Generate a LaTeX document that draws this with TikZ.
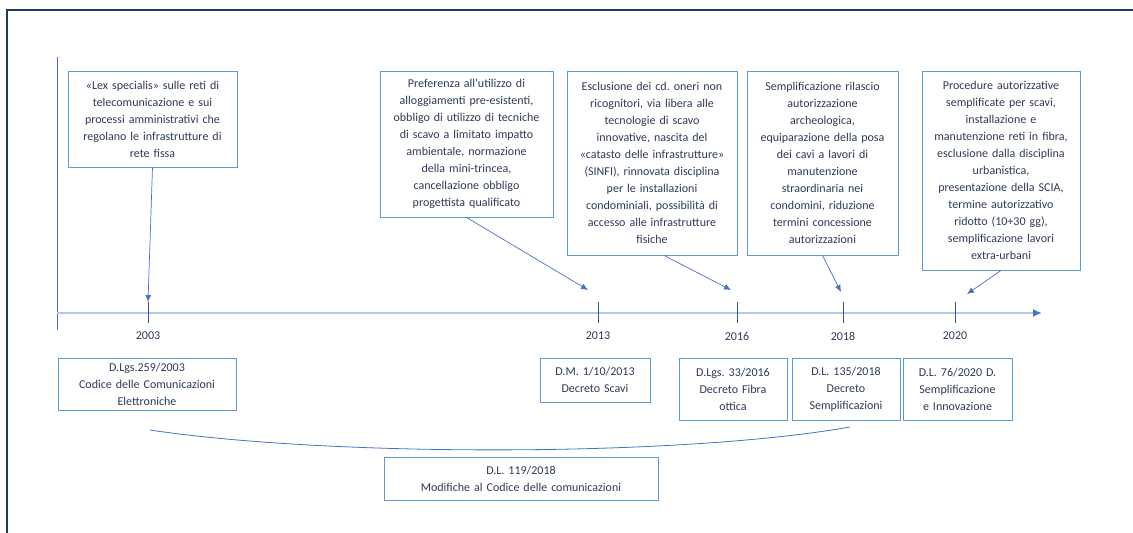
\documentclass[tikz,border=0pt]{standalone}
\usepackage{fontspec}
\setmainfont{Carlito}
\usepackage{tikz}
\usetikzlibrary{calc}
\usetikzlibrary{arrows.meta}
\usetikzlibrary{positioning}
\definecolor{frameblue}{HTML}{1F3A5F}
\definecolor{boxblue}{HTML}{5B9BD5}
\definecolor{linkblue}{HTML}{4472C4}
\definecolor{axisblue}{HTML}{B4C7E7}
\definecolor{tickblue}{HTML}{2F5597}
\definecolor{textnavy}{HTML}{2B3A58}
\begin{document}
\begin{tikzpicture}[x=1pt, y=-1pt,
    every node/.style={text=textnavy, font=\fontsize{12}{17}\selectfont\frenchspacing},
    notebox/.style={draw=boxblue, line width=0.9pt, align=center, inner sep=2pt},
    yearlabel/.style={inner sep=0pt},
    pointer/.style={linkblue, line width=0.7pt, -{Latex[length=7pt, width=6pt]}}]
            % Frame to ensure alignment:
            \useasboundingbox                                                  (0,0) rectangle (1133,533);
            \draw[frameblue, line width=2.4pt]                                 (7,533) -- (7,10) -- (1133,10);
            % Time axis
            \draw[linkblue, line width=0.8pt]                                  (57,57) -- (57,330);
            \draw[axisblue, line width=2.2pt, -{Latex[length=9pt, width=8pt, color=linkblue]}] (57,313) -- (1042,313);
            % Ticks and years
            \foreach \yx/\yr in {148/2003, 598/2013, 737/2016, 843/2018, 955/2020} {
                \draw[tickblue, line width=0.7pt]                              (\yx,302) -- (\yx,323);
                \node[yearlabel] (y\yr) at (\yx,336) {\yr};
                \coordinate (t\yr) at (\yx,302);
            }
            % Upper boxes
            \node[notebox, text width=165pt, minimum height=96pt]  (lex)   at (152.5,119)  {«Lex specialis» sulle reti di\\telecomunicazione e sui\\processi amministrativi che\\regolano le infrastrutture di\\rete fissa};
            \node[notebox, text width=169pt, minimum height=146pt] (pref)  at (466.5,144)  {Preferenza all’utilizzo di\\alloggiamenti pre-esistenti,\\obbligo di utilizzo di tecniche\\di scavo a limitato impatto\\ambientale, normazione\\della mini-trincea,\\cancellazione obbligo\\progettista qualificato};
            \node[notebox, text width=166pt, minimum height=184pt] (escl)  at (652,163)    {Esclusione dei cd. oneri non\\ricognitori, via libera alle\\tecnologie di scavo\\innovative, nascita del\\«catasto delle infrastrutture»\\(SINFI), rinnovata disciplina\\per le installazioni\\condominiali, possibilità di\\accesso alle infrastrutture\\fisiche};
            \node[notebox, text width=147pt, minimum height=184pt] (sempl) at (822.5,163)  {Semplificazione rilascio\\autorizzazione\\archeologica,\\equiparazione della posa\\dei cavi a lavori di\\manutenzione\\straordinaria nei\\condomini, riduzione\\termini concessione\\autorizzazioni};
            \node[notebox, text width=154pt, minimum height=199pt] (proc)  at (1001,170.5) {Procedure autorizzative\\semplificate per scavi,\\installazione e\\manutenzione reti in fibra,\\esclusione dalla disciplina\\urbanistica,\\presentazione della SCIA,\\termine autorizzativo\\ridotto (10+30 gg),\\semplificazione lavori\\extra-urbani};
            % Pointers to the axis
            \coordinate (p2013) at (588,290);
            \coordinate (p2016) at (731,290);
            \coordinate (p2018) at (841,292);
            \coordinate (p2020) at (967,294);
            \draw[pointer] (lex.south)                     -- (t2003);
            \draw[pointer] (pref.south)                    -- (p2013);
            \draw[pointer] ($(escl.south)+(12,0)$)         -- (p2016);
            \draw[pointer] (sempl.south)                   -- (p2018);
            \draw[pointer] (proc.south)                    -- (p2020);
            % Lower boxes
            \node[notebox, text width=174pt, minimum height=52pt]  (dlgs259) at (147,384)   {D.Lgs.259/2003\\Codice delle Comunicazioni\\Elettroniche};
            \node[notebox, text width=106pt, minimum height=44pt]  (dm2013)  at (595,380)   {D.M. 1/10/2013\\Decreto Scavi};
            \node[notebox, text width=104pt, minimum height=62pt]  (dlgs33)  at (733,389)   {D.Lgs. 33/2016\\Decreto Fibra\\ottica};
            \node[notebox, text width=104pt, minimum height=62pt]  (dl135)   at (846,389)   {D.L. 135/2018\\Decreto\\Semplificazioni};
            \node[notebox, text width=105pt, minimum height=62pt]  (dl76)    at (957.5,389) {D.L. 76/2020 D.\\Semplificazione\\e Innovazione};
            % Span of the amendments
            \coordinate (sfrom) at (150,430);
            \coordinate (sto)   at (850,427);
            \draw[linkblue, line width=0.8pt] (sfrom) .. controls (330,457) and (680,457) .. (sto);
            \node[notebox, text width=270pt, minimum height=43pt]  (dl119)   at (521,478.5) {D.L. 119/2018\\Modifiche al Codice delle comunicazioni};
        \end{tikzpicture}
\end{document}
